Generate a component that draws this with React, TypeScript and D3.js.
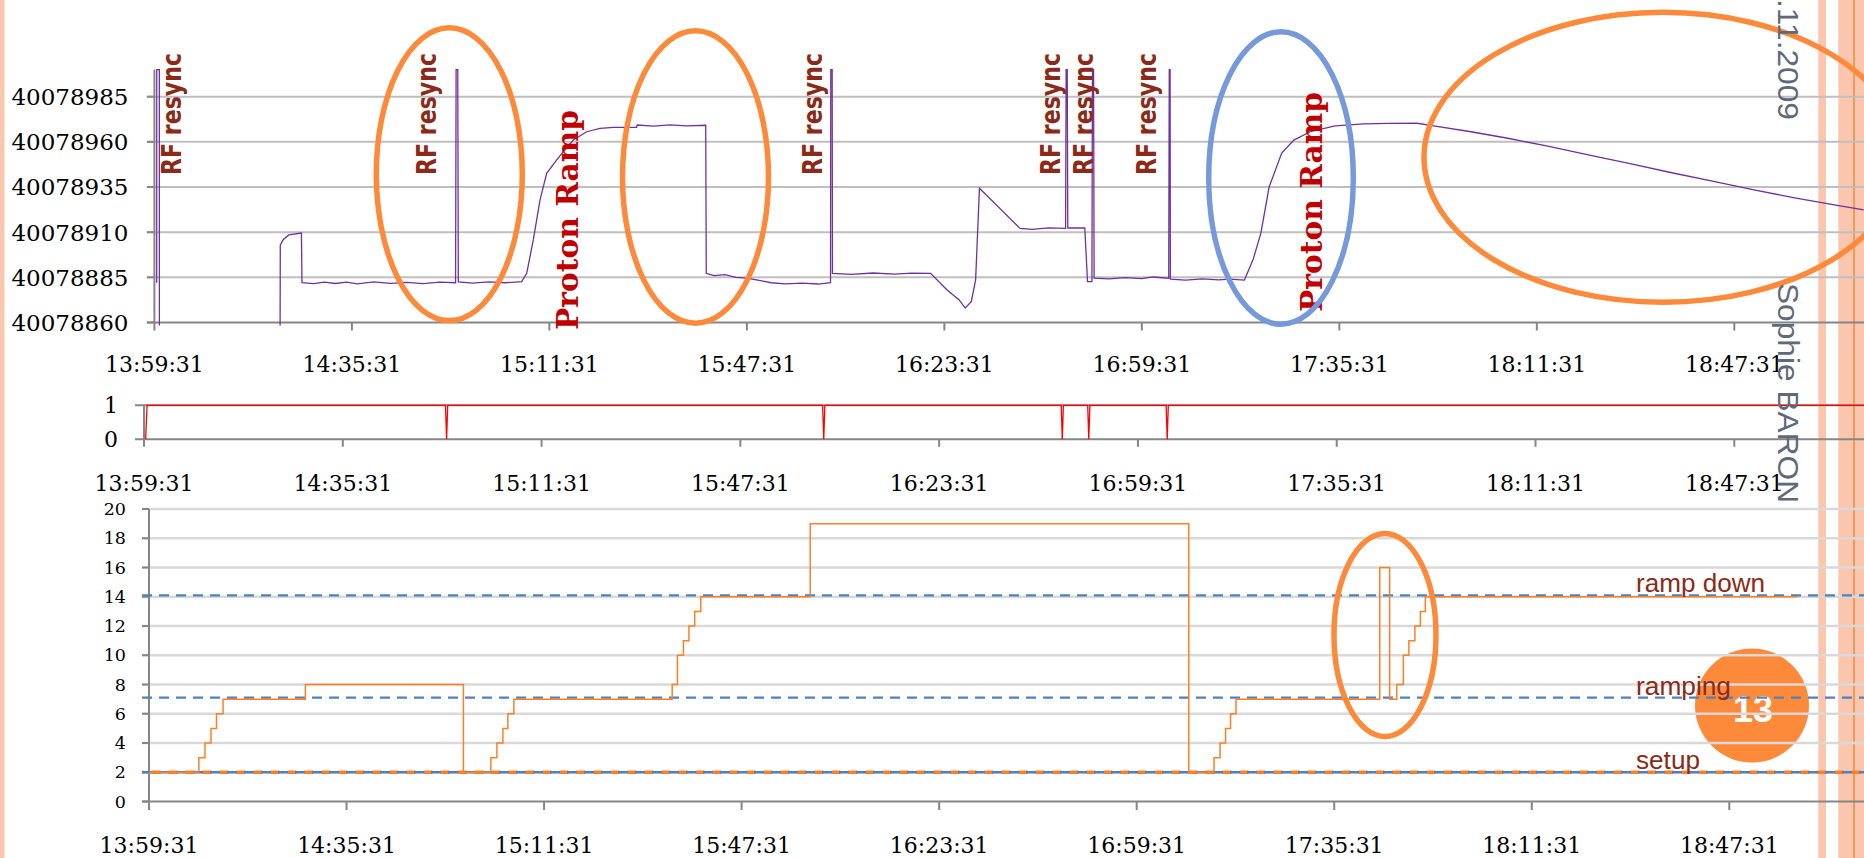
import React from "react";
import * as d3 from "d3";

// ---------- axis tick labels ----------
const TIME_TICK_LABELS = ["13:59:31", "14:35:31", "15:11:31", "15:47:31", "16:23:31", "16:59:31", "17:35:31", "18:11:31", "18:47:31"];
const FREQ_TICKS = [40078860, 40078885, 40078910, 40078935, 40078960, 40078985];
const SYNC_TICKS = [0, 1];
const STATE_TICKS = [0, 2, 4, 6, 8, 10, 12, 14, 16, 18, 20];

// ---------- top chart: RF frequency (minutes after 13:59:31) ----------
const FREQ_T = [0.42, 0.43, 0.9, 0.91, 22.9, 22.95, 23.5, 24.5, 26.8, 26.9, 29, 31, 33, 35, 37, 40, 43, 46, 49, 52, 54.9, 55.0, 55.3, 55.4, 58, 61, 64, 66.95,
  67.87, 69.07, 70.29, 71.51, 73.34, 74.54, 76.36, 78.8, 81.23, 83.65, 87.9, 88.0, 91, 94, 97, 100.5, 100.6, 102, 104, 106, 108.0, 110, 112.4, 115, 118, 121, 123.25, 123.3, 123.55, 123.6,
  127, 131, 135, 138, 141.5, 144.5, 146.7, 147.8, 148.9, 149.7, 150.4, 157.8, 160, 163, 166.1, 166.2, 166.4, 166.5, 169.6, 170.1, 170.9, 171.0, 171.2, 171.3, 174, 177, 180, 182, 184.9, 185.0, 185.15, 185.2,
  188, 191, 194, 196, 198.7, 200.3, 201.7, 203.2, 205.5, 207.7, 210.7, 215.2, 220.4, 225, 230.2, 233.2, 240, 246.7, 254, 261.6, 269, 276.6, 284, 291.6, 299, 306.5, 311.6];
const FREQ_V = [40078882, 40079000, 40079000, 40078840, 40078840, 40078903, 40078906, 40078908.5, 40078909.5, 40078882, 40078881.5, 40078882.4, 40078881.6, 40078882.3, 40078881.4, 40078882.5, 40078881.7, 40078882.2, 40078881.5, 40078882.3, 40078882, 40079000, 40079000, 40078882.5, 40078881.8, 40078882.5, 40078882, 40078882.6,
  40078887.2, 40078905.7, 40078927.8, 40078942.6, 40078950, 40078954.6, 40078961, 40078965.6, 40078967.5, 40078968, 40078968, 40078969.3, 40078968.7, 40078969.4, 40078968.8, 40078969.2, 40078887.2, 40078886, 40078886.5, 40078885, 40078884.6, 40078883.5, 40078882, 40078881.4, 40078881.8, 40078881.3, 40078882, 40079000, 40079000, 40078887.2,
  40078886.6, 40078887.4, 40078886.8, 40078887.3, 40078887.2, 40078878, 40078872.5, 40078868, 40078871.5, 40078883.5, 40078934.3, 40078912.1, 40078911.6, 40078912.4, 40078912.1, 40079000, 40079000, 40078912.3, 40078912.3, 40078882.6, 40078882.6, 40079000, 40079000, 40078884.5, 40078884.1, 40078884.8, 40078884.3, 40078885.2, 40078884.5, 40079000, 40079000, 40078884,
  40078883.5, 40078884.2, 40078883.6, 40078884, 40078883.5, 40078895, 40078909.5, 40078935, 40078953.8, 40078961, 40078965.6, 40078968.8, 40078969.9, 40078970.2, 40078970.3, 40078968.8, 40078965.6, 40078962, 40078957.6, 40078952.7, 40078948, 40078942.9, 40078938.2, 40078933.4, 40078929, 40078925, 40078922.3];

// ---------- middle chart: sync flag ----------
const SYNC_T = [0.3, 0.55, 54.6, 54.8, 55.0, 122.9, 123.1, 123.3, 166.1, 166.3, 166.5, 170.9, 171.1, 171.3, 185.1, 185.3, 185.5, 311.6];
const SYNC_V = [0, 1, 1, 0, 1, 1, 0, 1, 1, 0, 1, 1, 0, 1, 1, 0, 1, 1];

// ---------- bottom chart: machine state ----------
const STATE_T = [0, 9.08, 10.2, 11.3, 12.3, 13.5, 28.5, 57.3, 62.3, 63.4, 64.5, 65.4, 66.5, 95.35, 96.3, 97.4, 98.4, 99.45, 100.56, 120.5, 189.5, 194.1, 195.2, 196.2, 197.1, 198.1, 224.3, 226.1, 227.4, 228.6, 229.6, 230.7, 231.7, 232.6, 300.4];
const STATE_V = [2, 3, 4, 5, 6, 7, 8, 2, 3, 4, 5, 6, 7, 8, 10, 11, 12, 13, 14, 19, 2, 3, 4, 5, 6, 7, 16, 7, 8, 10, 11, 12, 13, 14, 14];
const STATE_LEVELS = [14.1, 7.1, 2];
const STATE_LEVEL_NAMES = ["ramp down", "ramping", "setup"];

// ---------- annotations (minutes) ----------
const RESYNC_LABEL_T = [4.19, 50.67, 120.9, 164.4, 170.4, 181.9];
const PROTON_RAMP_T = [77.2, 212.8];

const toMin = (s: string) => {
  const [h, m, x] = s.split(":").map(Number);
  return (h * 3600 + m * 60 + x - (13 * 3600 + 59 * 60 + 31)) / 60;
};
const TICK_MIN = TIME_TICK_LABELS.map(toMin);

const W = 1864, H = 858;
const SERIF = "'DejaVu Serif', serif";
const SANS = "'Liberation Sans', Arial, sans-serif";
const AXIS = "#868686";
const DARKRED = "#8B2A18";
const ORANGE = "#FD8A3A";

export default function App() {
  const xTop = d3.scaleLinear().domain([0, 288]).range([154.4, 1734.3]);
  const yTop = d3.scaleLinear().domain([40078860, 40079000]).range([322.5, 69.6]);
  const xMid = d3.scaleLinear().domain([0, 288]).range([144, 1734.3]);
  const yMid = d3.scaleLinear().domain([0, 1]).range([439.3, 405.3]);
  const xBot = d3.scaleLinear().domain([0, 288]).range([149, 1729.3]);
  const yBot = d3.scaleLinear().domain([0, 20]).range([801.5, 509]);

  const freqPts = FREQ_T.map((t, i) => [t, FREQ_V[i]] as [number, number]);
  const freqPath = d3.line<[number, number]>().x(d => xTop(d[0])).y(d => yTop(d[1]))(freqPts) || "";
  const syncPts = SYNC_T.map((t, i) => [t, SYNC_V[i]] as [number, number]);
  const syncPath = d3.line<[number, number]>().x(d => xMid(d[0])).y(d => yMid(d[1]))(syncPts) || "";
  const statePts = STATE_T.map((t, i) => [t, STATE_V[i]] as [number, number]);
  const statePath = d3.line<[number, number]>().x(d => xBot(d[0])).y(d => yBot(d[1])).curve(d3.curveStepAfter)(statePts) || "";

  const topAxisY = yTop(40078860);
  const midAxisY = yMid(0);
  const botAxisY = yBot(0);

  return (
    <svg width={W} height={H} viewBox={`0 0 ${W} ${H}`} style={{ position: "absolute", left: 0, top: 0, background: "#fff" }}>
      <defs>
        <clipPath id="topClip"><rect x={150} y={yTop(40079000) - 1} width={W} height={topAxisY - yTop(40079000) + 4} /></clipPath>
      </defs>
      <rect x={0} y={0} width={W} height={H} fill="#fff" />
      {/* slide template stripes */}
      <rect x={0} y={0} width={4.5} height={H} fill="#FBC6AE" />
      <rect x={1818.3} y={0} width={7.7} height={H} fill="#FBC6AE" />
      <rect x={1838.3} y={0} width={26} height={H} fill="#FBC6AE" />
      <line x1={1854} x2={1854} y1={0} y2={H} stroke="#F58A3A" strokeWidth={1.5} />

      {/* page number bubble (behind the chart) */}
      <circle cx={1752} cy={705.5} r={57} fill={ORANGE} />
      <text x={1753} y={721.5} fill="#fff" fontFamily={SANS} fontWeight="bold" fontSize={36} textAnchor="middle">13</text>

      {/* ================= TOP CHART ================= */}
      {FREQ_TICKS.map(v => (
        <line key={"tg" + v} x1={xTop(0) - 7.5} x2={W} y1={yTop(v)} y2={yTop(v)} stroke={v === 40078860 ? AXIS : "#BFBFBF"} strokeWidth={2} />
      ))}
      <line x1={xTop(0)} x2={xTop(0)} y1={yTop(40079000)} y2={topAxisY + 0.5} stroke={AXIS} strokeWidth={2} />
      {FREQ_TICKS.map(v => (
        <line key={"tt" + v} x1={xTop(0) - 7.5} x2={xTop(0)} y1={yTop(v)} y2={yTop(v)} stroke={AXIS} strokeWidth={2} />
      ))}
      {FREQ_TICKS.map(v => (
        <text key={"tl" + v} x={128.5} y={yTop(v) + 8.4} textAnchor="end" fontFamily={SERIF} fontSize={23} fill="#000">{v}</text>
      ))}
      {TICK_MIN.map((t, i) => (
        <g key={"tx" + i}>
          <line x1={xTop(t)} x2={xTop(t)} y1={topAxisY} y2={topAxisY + 8} stroke={AXIS} strokeWidth={2} />
          <text x={xTop(t)} y={372} textAnchor="middle" fontFamily={SERIF} fontSize={22} fill="#000">{TIME_TICK_LABELS[i]}</text>
        </g>
      ))}
      <path d={freqPath} fill="none" stroke="#7030A0" strokeWidth={1.3} clipPath="url(#topClip)" />

      {/* ================= MIDDLE CHART ================= */}
      <line x1={xMid(0) - 9} x2={W} y1={yMid(1)} y2={yMid(1)} stroke={AXIS} strokeWidth={2} />
      <line x1={xMid(0) - 9} x2={W} y1={midAxisY} y2={midAxisY} stroke={AXIS} strokeWidth={2} />
      <line x1={xMid(0)} x2={xMid(0)} y1={yMid(1)} y2={midAxisY + 1} stroke={AXIS} strokeWidth={2} />
      {SYNC_TICKS.map(v => (
        <text key={"ml" + v} x={118} y={yMid(v) + 8} textAnchor="end" fontFamily={SERIF} fontSize={22} fill="#000">{v}</text>
      ))}
      {TICK_MIN.map((t, i) => (
        <g key={"mx" + i}>
          <line x1={xMid(t)} x2={xMid(t)} y1={midAxisY} y2={midAxisY + 7.5} stroke={AXIS} strokeWidth={2} />
          <text x={xMid(t)} y={490.5} textAnchor="middle" fontFamily={SERIF} fontSize={22} fill="#000">{TIME_TICK_LABELS[i]}</text>
        </g>
      ))}
      <path d={syncPath} fill="none" stroke="#FF0000" strokeWidth={1.3} />

      {/* ================= BOTTOM CHART ================= */}
      {STATE_TICKS.filter(v => v > 0).map(v => (
        <line key={"bg" + v} x1={xBot(0) - 7} x2={W} y1={yBot(v)} y2={yBot(v)} stroke="#D9D9D9" strokeWidth={2.5} />
      ))}
      <line x1={xBot(0) - 7} x2={W} y1={botAxisY} y2={botAxisY} stroke={AXIS} strokeWidth={2} />
      <line x1={xBot(0)} x2={xBot(0)} y1={yBot(20)} y2={botAxisY + 1} stroke={AXIS} strokeWidth={2} />
      {STATE_TICKS.map(v => (
        <g key={"bt" + v}>
          <line x1={xBot(0) - 7} x2={xBot(0)} y1={yBot(v)} y2={yBot(v)} stroke={AXIS} strokeWidth={2} />
          <text x={126} y={yBot(v) + 6} textAnchor="end" fontFamily={SERIF} fontSize={17.5} fill="#000">{v}</text>
        </g>
      ))}
      {TICK_MIN.map((t, i) => (
        <g key={"bx" + i}>
          <line x1={xBot(t)} x2={xBot(t)} y1={botAxisY} y2={botAxisY + 8.5} stroke={AXIS} strokeWidth={2} />
          <text x={xBot(t)} y={853} textAnchor="middle" fontFamily={SERIF} fontSize={22} fill="#000">{TIME_TICK_LABELS[i]}</text>
        </g>
      ))}
      <line x1={xBot(0) - 7} x2={W} y1={yBot(2)} y2={yBot(2)} stroke="#FF7F27" strokeWidth={3.5} strokeDasharray="9 8" strokeDashoffset={-9.5} />
      {STATE_LEVELS.map(v => (
        <line key={"lv" + v} x1={xBot(0) - 7} x2={W} y1={yBot(v)} y2={yBot(v)} stroke="#4F81BD" strokeWidth={2.3} strokeDasharray="10 7" />
      ))}
      <path d={statePath} fill="none" stroke="#FF7F27" strokeWidth={1.5} />
      {STATE_LEVELS.map((v, i) => (
        <text key={"ln" + v} x={1636} y={yBot(v) - 3} fontFamily={SANS} fontSize={25} fill={DARKRED}
          textLength={[129, 95, 64][i]} lengthAdjust="spacingAndGlyphs">{STATE_LEVEL_NAMES[i]}</text>
      ))}

      {/* ================= ANNOTATIONS ================= */}
      {RESYNC_LABEL_T.map((t, i) => (
        <text key={"rf" + i} transform={`translate(${xTop(t) + 4},175) rotate(-90)`} fontFamily="'DejaVu Sans', sans-serif" fontWeight="bold" fontSize={27}
          fill={DARKRED} textLength={122} lengthAdjust="spacingAndGlyphs">RF resync</text>
      ))}
      {PROTON_RAMP_T.map((t, i) => (
        <text key={"pr" + i} transform={`translate(${xTop(t)},${[330, 312][i]}) rotate(-90)`} fontFamily={SERIF} fontWeight="bold" fontSize={29}
          fill="#C00000" textLength={220} lengthAdjust="spacingAndGlyphs">Proton Ramp</text>
      ))}
      <ellipse cx={449.3} cy={174.2} rx={73} ry={146.4} fill="none" stroke={ORANGE} strokeWidth={5.5} />
      <ellipse cx={695.5} cy={177} rx={73} ry={146.2} fill="none" stroke={ORANGE} strokeWidth={5.5} />
      <ellipse cx={1281} cy={178} rx={72.3} ry={146.2} fill="none" stroke="#7699DA" strokeWidth={5.5} />
      <ellipse cx={1663} cy={157.3} rx={239} ry={145} fill="none" stroke={ORANGE} strokeWidth={5.5} />
      <ellipse cx={1385} cy={635} rx={51} ry={101.5} fill="none" stroke={ORANGE} strokeWidth={5.5} />

      {/* footer texts */}
      <text transform="translate(1777.5,-1) rotate(90)" fontFamily={SANS} fontSize={30} fill="#5E6979"
        textLength={121} lengthAdjust="spacingAndGlyphs">.11.2009</text>
      <text transform="translate(1777.5,283) rotate(90)" fontFamily={SANS} fontSize={30} fill="#5E6979"
        textLength={220} lengthAdjust="spacingAndGlyphs">Sophie BARON</text>
    </svg>
  );
}
